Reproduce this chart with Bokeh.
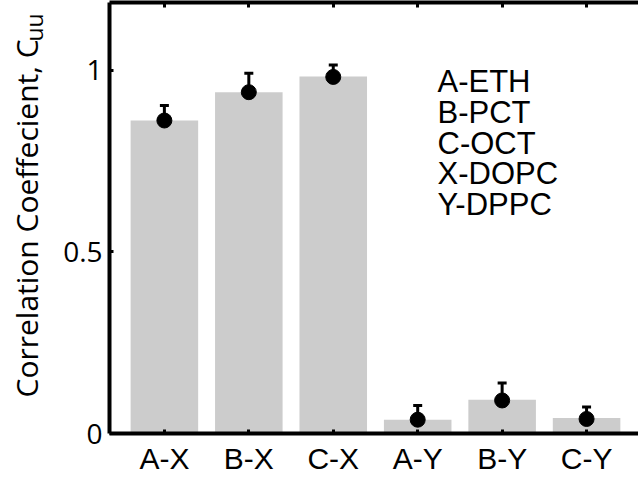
from bokeh.plotting import figure
from bokeh.models import (Range1d, FixedTicker, LinearAxis, Label, Whisker,
                          ColumnDataSource, TeeHead)
from bokeh.layouts import row
from bokeh.embed import file_html
from bokeh.resources import INLINE
import math

# ---- data ----
categories = ["A-X", "B-X", "C-X", "A-Y", "B-Y", "C-Y"]
bar_values = [0.862, 0.940, 0.983, 0.038, 0.093, 0.043]
point_values = [0.862, 0.940, 0.982, 0.038, 0.091, 0.040]
error_values = [0.041, 0.052, 0.033, 0.039, 0.048, 0.033]
y_ticks = [0, 0.5, 1]
y_tick_labels = ["0", "0.5", "1"]
legend_lines = ["A-ETH", "B-PCT", "C-OCT", "X-DOPC", "Y-DPPC"]
y_label_main = "Correlation Coeffecient, C"
y_label_sub = "uu"

positions = list(range(1, len(categories) + 1))
src = ColumnDataSource(dict(
    x=positions,
    bar=bar_values,
    pt=point_values,
    lo=[p - e for p, e in zip(point_values, error_values)],
    hi=[p + e for p, e in zip(point_values, error_values)],
))

# ---- left strip holding the y-axis title (with subscript) ----
lab = figure(width=60, height=481, output_backend="svg", toolbar_location=None,
             x_axis_location=None, y_axis_location=None,
             x_range=Range1d(0, 1), y_range=Range1d(0, 1),
             min_border=0, outline_line_color=None)
lab.grid.grid_line_color = None
lab.add_layout(Label(x=26, y=36, x_units="screen", y_units="screen",
                     text=y_label_main, angle=math.pi / 2, text_align="left",
                     text_baseline="alphabetic", text_font="Open Sans",
                     text_font_size="30px", text_color="black"))
lab.add_layout(Label(x=33, y=392, x_units="screen", y_units="screen",
                     text=y_label_sub, angle=math.pi / 2, text_align="left",
                     text_baseline="alphabetic", text_font="Open Sans",
                     text_font_size="23px", text_color="black"))

# ---- main chart ----
p = figure(width=578, height=481, output_backend="svg", toolbar_location=None,
           x_range=Range1d(0.35, 6.615), y_range=Range1d(0, 1.187),
           min_border_left=48, min_border_right=0, min_border_top=2,
           min_border_bottom=48)
p.outline_line_color = None
p.grid.grid_line_color = None

p.vbar(x="x", top="bar", width=0.8, source=src, fill_color="#cccccc",
       line_color=None)
p.add_layout(Whisker(base="x", upper="hi", lower="lo", source=src,
                     line_color="black", line_width=3,
                     upper_head=TeeHead(size=9, line_width=3, line_color="black"),
                     lower_head=TeeHead(size=9, line_width=3, line_color="black")))
p.scatter(x="x", y="pt", size=15, source=src, fill_color="black",
          line_color="black")

# x axis (bottom)
xa = p.xaxis[0]
xa.ticker = FixedTicker(ticks=positions)
xa.major_label_overrides = {pos: c for pos, c in zip(positions, categories)}
xa.major_label_text_font = "Liberation Sans"
xa.major_label_text_font_size = "30px"
xa.major_label_text_color = "black"
xa.major_label_standoff = 8
xa.axis_line_width = 4
xa.axis_line_color = "black"
xa.major_tick_in = 4
xa.major_tick_out = 0
xa.major_tick_line_width = 3
xa.minor_tick_line_color = None

# y axis (left)
ya = p.yaxis[0]
ya.ticker = FixedTicker(ticks=y_ticks)
ya.major_label_overrides = {t: l for t, l in zip(y_ticks, y_tick_labels)}
ya.major_label_text_font = "Open Sans"
ya.major_label_text_font_size = "28px"
ya.major_label_text_color = "black"
ya.major_label_standoff = 7
ya.axis_line_width = 4
ya.axis_line_color = "black"
ya.major_tick_in = 4
ya.major_tick_out = 0
ya.major_tick_line_width = 3
ya.minor_tick_line_color = None

# top axis (box edge with inward ticks, no labels)
top = LinearAxis(ticker=FixedTicker(ticks=positions),
                 major_label_text_font_size="0px", major_label_text_color=None,
                 major_label_standoff=0, major_tick_in=5, major_tick_out=0,
                 major_tick_line_width=3, axis_line_width=4,
                 minor_tick_line_color=None)
p.add_layout(top, "above")

# annotation text block
for i, line in enumerate(legend_lines):
    p.add_layout(Label(x=328, y=352 - 30.8 * i, x_units="screen", y_units="screen",
                       text=line, text_align="left", text_baseline="alphabetic",
                       text_font="Liberation Sans", text_font_size="31px",
                       text_color="black"))

layout = row(lab, p, spacing=0)
open("out.html", "w").write(file_html(layout, INLINE))
